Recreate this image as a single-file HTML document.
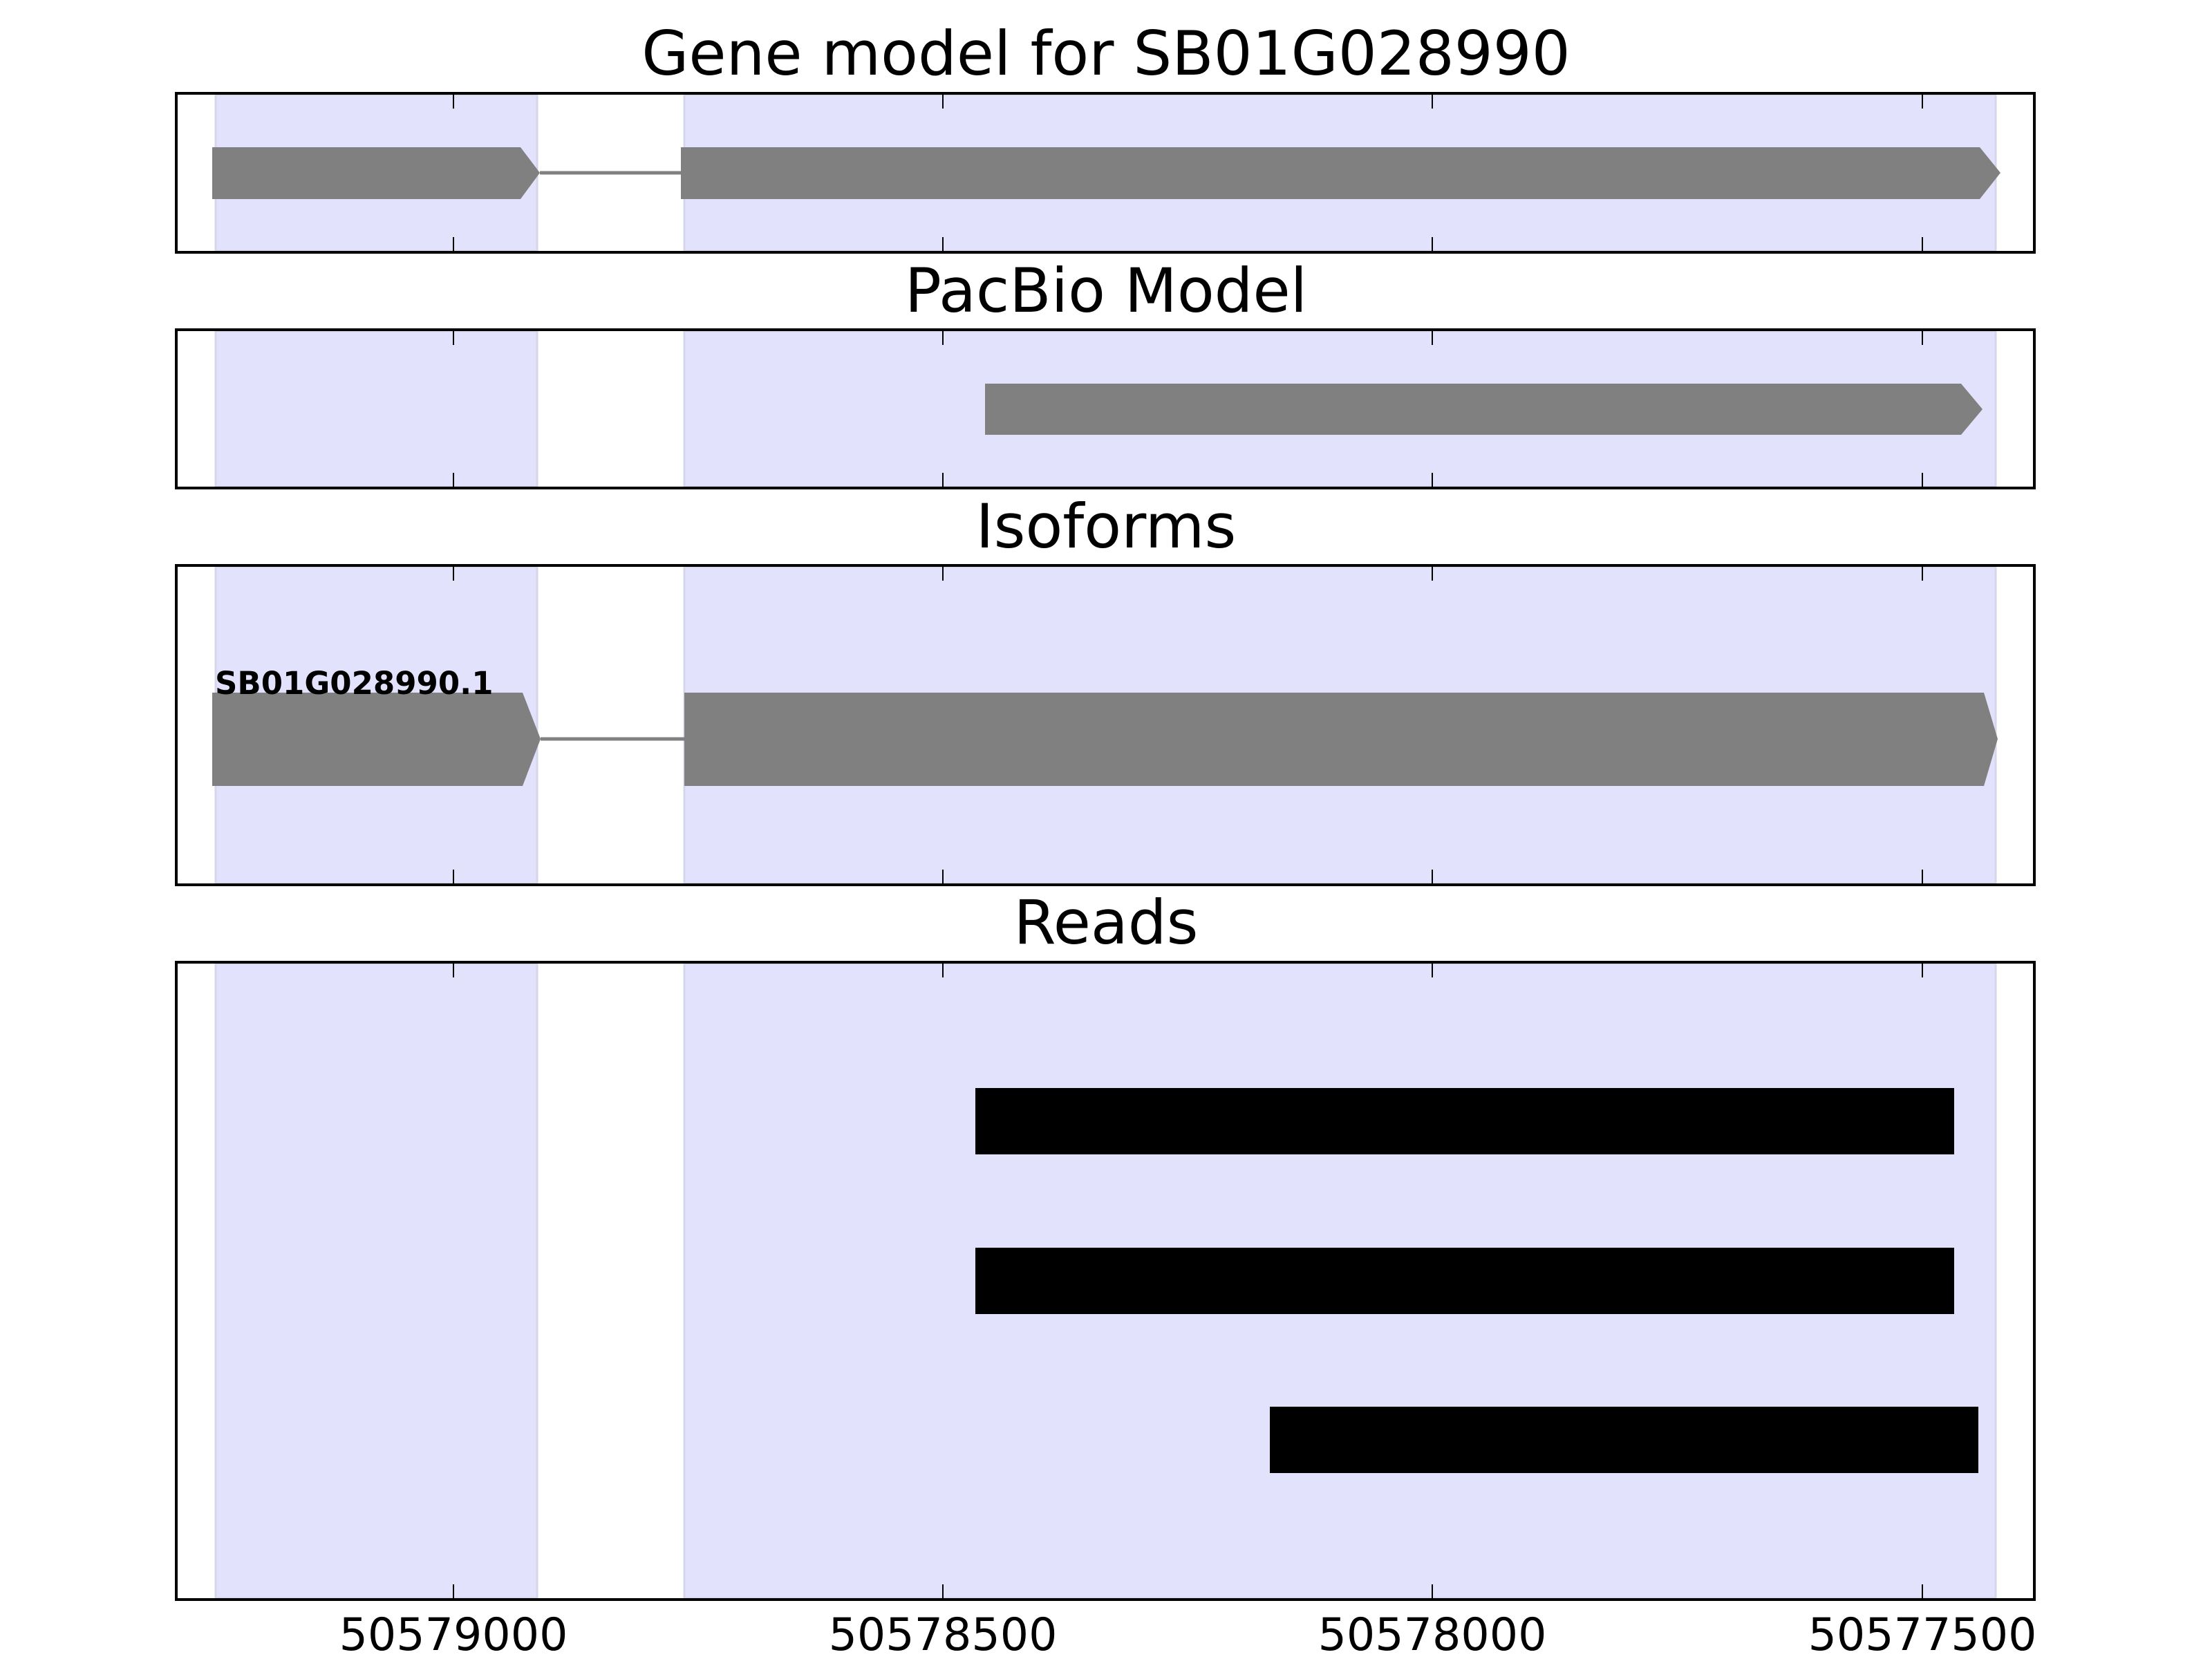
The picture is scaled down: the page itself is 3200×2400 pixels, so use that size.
<!DOCTYPE html>
<html><head><meta charset="utf-8"><style>html,body{margin:0;padding:0;background:#fff}svg{display:block}</style></head>
<body>
<svg width="3200" height="2400" viewBox="0 0 3200 2400" xmlns="http://www.w3.org/2000/svg" font-family="DejaVu Sans, Liberation Sans, sans-serif">
<!-- shading -->
<g fill="#e2e2fc" stroke="#d6d6ea" stroke-width="3">
<rect x="312" y="137" width="465" height="226"/><rect x="990" y="137" width="1897" height="226"/>
<rect x="312" y="479" width="465" height="225"/><rect x="990" y="479" width="1897" height="225"/>
<rect x="312" y="820" width="465" height="458"/><rect x="990" y="820" width="1897" height="458"/>
<rect x="312" y="1394" width="465" height="918"/><rect x="990" y="1394" width="1897" height="918"/>
</g>
<!-- panel 1 -->
<line x1="781" y1="250" x2="986" y2="250" stroke="#808080" stroke-width="5"/>
<polygon points="307,213 753,213 781,250 753,288 307,288" fill="#808080"/>
<polygon points="985,213 2864,213 2894,250 2864,288 985,288" fill="#808080"/>
<!-- panel 2 -->
<polygon points="1425,555 2837,555 2868,592 2837,629 1425,629" fill="#808080"/>
<!-- panel 3 -->
<line x1="782" y1="1069" x2="991" y2="1069" stroke="#808080" stroke-width="5"/>
<polygon points="307,1002 756,1002 782,1069 756,1137 307,1137" fill="#808080"/>
<polygon points="990,1002 2870,1002 2890,1069 2870,1137 990,1137" fill="#808080"/>
<text x="311" y="1004" font-size="45" font-weight="bold" fill="#000">SB01G028990.1</text>
<!-- panel 4 reads -->
<rect x="1411" y="1574" width="1416" height="96" fill="#000"/>
<rect x="1411" y="1805" width="1416" height="96" fill="#000"/>
<rect x="1837" y="2035" width="1025" height="96" fill="#000"/>
<!-- axes frames -->
<g fill="none" stroke="#000" stroke-width="4">
<rect x="255" y="135" width="2688" height="230"/>
<rect x="255" y="477" width="2688" height="229"/>
<rect x="255" y="818" width="2688" height="462"/>
<rect x="255" y="1392" width="2688" height="922"/>
</g>
<!-- ticks -->
<g stroke="#000" stroke-width="2">
<path d="M656 137v20M1364 137v20M2072 137v20M2781 137v20M656 363v-20M1364 363v-20M2072 363v-20M2781 363v-20"/>
<path d="M656 479v20M1364 479v20M2072 479v20M2781 479v20M656 704v-20M1364 704v-20M2072 704v-20M2781 704v-20"/>
<path d="M656 820v20M1364 820v20M2072 820v20M2781 820v20M656 1278v-20M1364 1278v-20M2072 1278v-20M2781 1278v-20"/>
<path d="M656 1394v20M1364 1394v20M2072 1394v20M2781 1394v20M656 2312v-20M1364 2312v-20M2072 2312v-20M2781 2312v-20"/>
</g>
<!-- titles -->
<g font-size="88" text-anchor="middle" fill="#000">
<text x="1600" y="108">Gene model for SB01G028990</text>
<text x="1600" y="451">PacBio Model</text>
<text x="1600" y="792">Isoforms</text>
<text x="1600" y="1365">Reads</text>
</g>
<g font-size="65" text-anchor="middle" fill="#000">
<text x="656" y="2387">50579000</text>
<text x="1364" y="2387">50578500</text>
<text x="2072" y="2387">50578000</text>
<text x="2781" y="2387">50577500</text>
</g>
</svg>
</body></html>
